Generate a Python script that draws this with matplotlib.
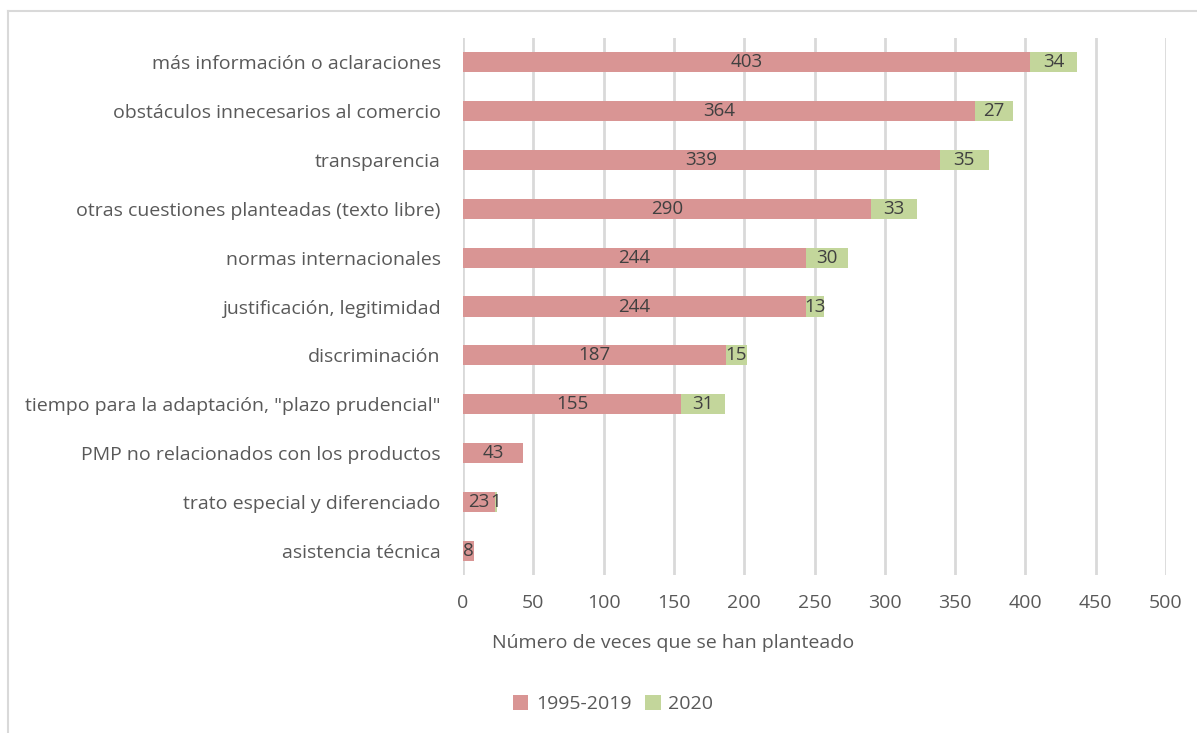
import numpy as np
import matplotlib.pyplot as plt
from matplotlib.lines import Line2D

# data
categories = ["más información o aclaraciones",
              "obstáculos innecesarios al comercio",
              "transparencia",
              "otras cuestiones planteadas (texto libre)",
              "normas internacionales",
              "justificación, legitimidad",
              "discriminación",
              "tiempo para la adaptación, \"plazo prudencial\"",
              "PMP no relacionados con los productos",
              "trato especial y diferenciado",
              "asistencia técnica"]
v_1995_2019 = [403, 364, 339, 290, 244, 244, 187, 155, 43, 23, 8]
v_2020 = [34, 27, 35, 33, 30, 13, 15, 31, 0, 1, 0]
xticks = [0, 50, 100, 150, 200, 250, 300, 350, 400, 450, 500]

pink = '#d99594'
green = '#c3d69b'
txt = '#595959'

plt.rcParams['font.family'] = ['Open Sans', 'DejaVu Sans']

fig = plt.figure(figsize=(11.97, 7.33), dpi=100)
ax = fig.add_axes([463/1197, 1-575/733, 703/1197, 537/733])

y = np.arange(len(categories))
a = np.array(v_1995_2019)
b = np.array(v_2020)
ax.barh(y, a, height=0.41, color=pink, zorder=3, label='1995-2019')
ax.barh(y, b, left=a, height=0.41, color=green, zorder=3, label='2020')

for i in range(len(categories)):
    ax.text(a[i]/2, y[i], str(a[i]), ha='center', va='center', fontsize=13.5, color='#404040', zorder=4)
    if b[i] > 0:
        ax.text(a[i] + b[i]/2, y[i], str(b[i]), ha='center', va='center', fontsize=13.5, color='#404040', zorder=4)

ax.set_ylim(len(categories)-0.5, -0.5)
ax.set_xlim(0, 500)
ax.set_yticks(y)
ax.set_yticklabels(categories, fontsize=14, color=txt)
ax.set_xticks(xticks)
ax.set_xticklabels([str(t) for t in xticks], fontsize=14, color=txt)
ax.tick_params(axis='both', length=0)
ax.tick_params(axis='y', pad=16)
ax.tick_params(axis='x', pad=14)
ax.grid(axis='x', color='#d9d9d9', linewidth=2, zorder=0)
for s in ax.spines.values():
    s.set_visible(False)
ax.set_xlabel('Número de veces que se han planteado', fontsize=14, color=txt)
ax.xaxis.set_label_coords((673-463)/703, -(634-575)/537)

ax.legend(loc='center', bbox_to_anchor=(613/1197, 1-704/733), bbox_transform=fig.transFigure,
          ncol=2, frameon=False, fontsize=14, handlelength=0.8, handleheight=0.8,
          handletextpad=0.4, columnspacing=0.7, labelcolor=txt)

# outer frame (top and left only visible)
fig.add_artist(Line2D([8/1197, 1], [1-10.5/733, 1-10.5/733], color='#d9d9d9', linewidth=1.5))
fig.add_artist(Line2D([8/1197, 8/1197], [0, 1-10.5/733], color='#d9d9d9', linewidth=1.5))

fig.savefig('out.png', dpi=100)
